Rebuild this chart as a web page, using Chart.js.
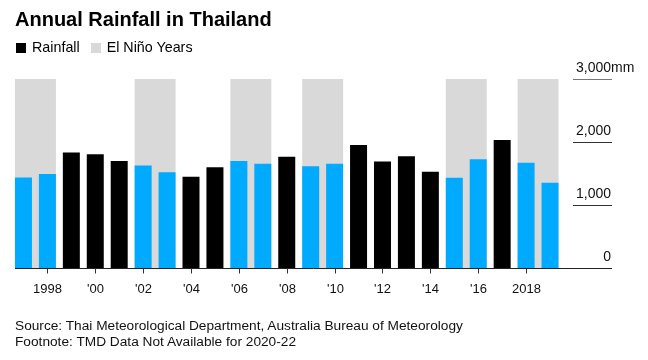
<!DOCTYPE html>
<html>
<head>
<meta charset="utf-8">
<script src="https://cdn.jsdelivr.net/npm/chart.js@4.4.1/dist/chart.umd.min.js"></script>
<style>
  html, body { margin: 0; padding: 0; background: #fff; }
  body { width: 648px; height: 360px; position: relative; overflow: hidden; font-family: "Liberation Sans", Arial, sans-serif; color: #000; }
  #title { position: absolute; left: 15px; top: 7px; font-size: 20px; font-weight: bold; line-height: 24px; white-space: nowrap; }
  #legend { position: absolute; left: 16px; top: 38px; font-size: 14.3px; line-height: 18px; white-space: nowrap; }
  #legend span.sw { display: inline-block; width: 10px; height: 10px; vertical-align: -1px; margin-right: 6px; }
  #legend span.item { margin-right: 11px; }
  #foot { position: absolute; left: 15px; top: 318px; font-size: 13.7px; line-height: 16px; color: #111; white-space: nowrap; }
  #wrap { position: absolute; left: 0; top: 0; width: 648px; height: 360px; }
</style>
</head>
<body>
<div id="wrap"><canvas id="c" width="648" height="360"></canvas></div>
<div id="title">Annual Rainfall in Thailand</div>
<div id="legend"><span class="item"><span class="sw" style="background:#000"></span>Rainfall</span><span class="item"><span class="sw" style="background:#d9d9d9"></span>El Niño Years</span></div>
<div id="foot">Source: Thai Meteorological Department, Australia Bureau of Meteorology<br>Footnote: TMD Data Not Available for 2020-22</div>
<script>
const years = [1997,1998,1999,2000,2001,2002,2003,2004,2005,2006,2007,2008,2009,2010,2011,2012,2013,2014,2015,2016,2017,2018,2019];
const rainfall = [1436,1494,1832,1806,1700,1626,1521,1447,1600,1700,1653,1764,1616,1653,1954,1690,1775,1526,1431,1727,2033,1669,1352];
const elNinoYears = [1997,1998,2002,2003,2006,2007,2009,2010,2015,2016,2018,2019];
const yTicks = [0,1000,2000,3000];
const xTickYears = [1998,2000,2002,2004,2006,2008,2010,2012,2014,2016,2018];
const xTickLabels = ["1998","'00","'02","'04","'06","'08","'10","'12","'14","'16","2018"];

const BLUE = '#00aaff', GREY = '#d9d9d9', BLACK = '#000000';
const isNino = years.map(y => elNinoYears.includes(y));

const overlay = {
  id: 'overlay',
  beforeDatasetsDraw(chart) {
    const ctx = chart.ctx, meta = chart.getDatasetMeta(0), y = chart.scales.y;
    const top = y.getPixelForValue(3000), bot = y.getPixelForValue(0);
    ctx.save();
    ctx.fillStyle = GREY;
    let i = 0;
    while (i < years.length) {
      if (isNino[i]) {
        let j = i;
        while (j + 1 < years.length && isNino[j + 1]) j++;
        const a = meta.data[i], b = meta.data[j];
        const l = a.x - a.width / 2, r = b.x + b.width / 2;
        ctx.fillRect(l, top, r - l, bot - top);
        i = j + 1;
      } else i++;
    }
    ctx.restore();
  },
  afterDatasetsDraw(chart) {
    const ctx = chart.ctx, meta = chart.getDatasetMeta(0), y = chart.scales.y;
    const bot = Math.round(y.getPixelForValue(0)) + 0.5;
    const first = meta.data[0];
    const leftX = first.x - first.width / 2;
    const gx0 = 573, gx1 = 612;
    ctx.save();
    ctx.strokeStyle = '#222';
    ctx.lineWidth = 1;
    ctx.beginPath();
    ctx.moveTo(leftX, bot);
    ctx.lineTo(gx1, bot);
    ctx.stroke();
    ctx.font = '14px "Liberation Sans", Arial, sans-serif';
    ctx.fillStyle = '#111';
    ctx.textBaseline = 'alphabetic';
    yTicks.forEach(v => {
      const py = Math.round(y.getPixelForValue(v)) + 0.5;
      if (v !== 0) {
        ctx.strokeStyle = v === 3000 ? '#777' : '#333';
        ctx.beginPath();
        ctx.moveTo(gx0, py);
        ctx.lineTo(gx1, py);
        ctx.stroke();
      }
      const txt = v.toLocaleString('en-US');
      ctx.textAlign = 'right';
      ctx.fillText(txt, gx1 - 1, py - 8);
      if (v === 3000) {
        ctx.textAlign = 'left';
        ctx.fillText('mm', gx1 - 1, py - 8);
      }
    });
    ctx.strokeStyle = '#333';
    ctx.textAlign = 'center';
    ctx.font = '13px "Liberation Sans", Arial, sans-serif';
    xTickYears.forEach((yr, k) => {
      const idx = years.indexOf(yr);
      const px = Math.round(meta.data[idx].x) + 0.5;
      ctx.beginPath();
      ctx.moveTo(px, bot);
      ctx.lineTo(px, bot + 5);
      ctx.stroke();
      ctx.fillText(xTickLabels[k], px, bot + 24);
    });
    ctx.restore();
  }
};

new Chart(document.getElementById('c'), {
  type: 'bar',
  data: {
    labels: years.map(String),
    datasets: [{
      data: rainfall,
      backgroundColor: years.map((y, i) => isNino[i] ? BLUE : BLACK),
      borderWidth: 0,
      barPercentage: 0.71,
      categoryPercentage: 1
    }]
  },
  options: {
    responsive: false,
    animation: false,
    layout: { padding: { left: 11.5, right: 86, top: 79, bottom: 92 } },
    plugins: { legend: { display: false }, tooltip: { enabled: false } },
    scales: {
      x: { display: false },
      y: { display: false, min: 0, max: 3000 }
    }
  },
  plugins: [overlay]
});
</script>
</body>
</html>
